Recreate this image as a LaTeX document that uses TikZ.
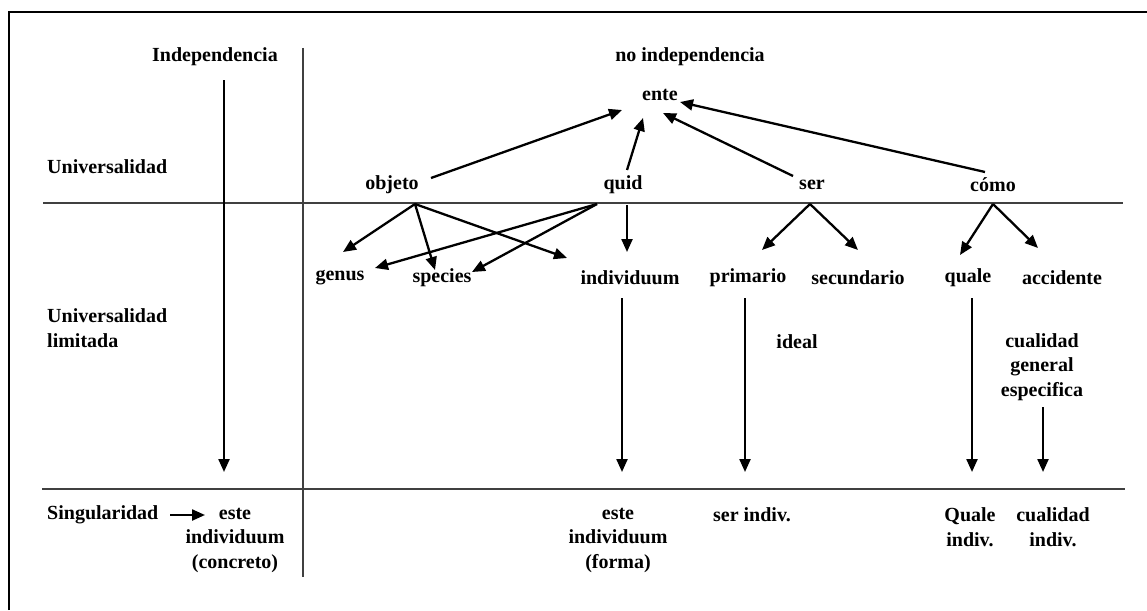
\documentclass[tikz,border=0pt]{standalone}
\usepackage{fontspec}
\setmainfont{Liberation Serif}
\usetikzlibrary{arrows.meta}
\begin{document}
\begin{tikzpicture}[x=1pt,y=-1pt,
  lbl/.style={font=\bfseries\fontsize{20}{24.5}\selectfont, align=center, inner sep=0pt, text=black},
  rule/.style={line width=2.4pt, draw=black!75},
  frame/.style={line width=2pt, draw=black},
  arr/.style={line width=2.3pt, draw=black, -{Triangle[length=13pt,width=11pt]}}]
\useasboundingbox (0,0) rectangle (1147,610);
% frame
\coordinate (fTL) at (9,12.5);
\coordinate (fTR) at (1147,12.5);
\coordinate (fBL) at (9,610);
\draw[frame] (fBL) -- (fTL) -- (fTR);
% grid lines
\coordinate (h1a) at (43,203); \coordinate (h1b) at (1123,203);
\coordinate (h2a) at (42,489); \coordinate (h2b) at (1125,489);
\coordinate (v1a) at (303,48); \coordinate (v1b) at (303,577);
\draw[rule] (h1a) -- (h1b);
\draw[rule] (h2a) -- (h2b);
\draw[rule] (v1a) -- (v1b);
% texts
\node[lbl] (indep) at (215,57) {Independencia};
\node[lbl] (noindep) at (690,57) {no independencia};
\node[lbl] (ente) at (660,95) {ente};
\node[lbl, anchor=west] (univ) at (47,167) {Universalidad};
\node[lbl] (objeto) at (392,185) {objeto};
\node[lbl] (quid) at (623,185) {quid};
\node[lbl] (ser) at (812,185) {ser};
\node[lbl] (como) at (993,185) {cómo};
\node[lbl] (genus) at (340,278) {genus};
\node[lbl] (species) at (442,278) {species};
\node[lbl] (individuum) at (630,278) {individuum};
\node[lbl] (primario) at (748,278) {primario};
\node[lbl] (secundario) at (858,278) {secundario};
\node[lbl] (quale) at (968,278) {quale};
\node[lbl] (accidente) at (1062,278) {accidente};
\node[lbl, anchor=west, align=left] (univlim) at (47,328) {Universalidad\\limitada};
\node[lbl] (ideal) at (797,342) {ideal};
\node[lbl] (cualgen) at (1042,367) {cualidad\\general\\especifica};
\node[lbl, anchor=west] (sing) at (47,515) {Singularidad};
\node[lbl] (esteconc) at (235,540) {este\\individuum\\(concreto)};
\node[lbl] (esteforma) at (618,540) {este\\individuum\\(forma)};
\node[lbl] (serind) at (752,515) {ser indiv.};
\node[lbl] (qualeind) at (970,527) {Quale\\indiv.};
\node[lbl] (cualind) at (1053,527) {cualidad\\indiv.};
% arrow end points
\coordinate (iA) at (224,80); \coordinate (iB) at (224,472);
\coordinate (sA) at (170,515); \coordinate (sB) at (205,515);
\coordinate (indA) at (622,298); \coordinate (indB) at (622,472);
\coordinate (priA) at (745,298); \coordinate (priB) at (745,472);
\coordinate (quaA) at (972,298); \coordinate (quaB) at (972,472);
\coordinate (cuaA) at (1043,407); \coordinate (cuaB) at (1043,472);
\coordinate (oE) at (431,178); \coordinate (eL) at (622,110);
\coordinate (qN) at (627,170); \coordinate (eB) at (643,118);
\coordinate (sN) at (793,176); \coordinate (eR) at (663,113);
\coordinate (cN) at (985,172); \coordinate (eRR) at (680,102);
\coordinate (oS) at (415,204);
\coordinate (gT1) at (343,252); \coordinate (spT1) at (435,270); \coordinate (inT1) at (567,258);
\coordinate (qS) at (597,204);
\coordinate (gT2) at (375,268); \coordinate (spT2) at (472,272);
\coordinate (qD) at (627,205); \coordinate (qDT) at (627,252);
\coordinate (serS) at (810,204);
\coordinate (prT) at (762,250); \coordinate (seT) at (858,250);
\coordinate (coS) at (993,204);
\coordinate (quT) at (960,255); \coordinate (acT) at (1038,248);
% arrows
\draw[arr] (iA) -- (iB);
\draw[arr] (sA) -- (sB);
\draw[arr] (indA) -- (indB);
\draw[arr] (priA) -- (priB);
\draw[arr] (quaA) -- (quaB);
\draw[arr] (cuaA) -- (cuaB);
\draw[arr] (oE) -- (eL);
\draw[arr] (qN) -- (eB);
\draw[arr] (sN) -- (eR);
\draw[arr] (cN) -- (eRR);
\draw[arr] (oS) -- (gT1);
\draw[arr] (oS) -- (spT1);
\draw[arr] (oS) -- (inT1);
\draw[arr] (qS) -- (gT2);
\draw[arr] (qS) -- (spT2);
\draw[arr] (qD) -- (qDT);
\draw[arr] (serS) -- (prT);
\draw[arr] (serS) -- (seT);
\draw[arr] (coS) -- (quT);
\draw[arr] (coS) -- (acT);
\end{tikzpicture}
\end{document}
